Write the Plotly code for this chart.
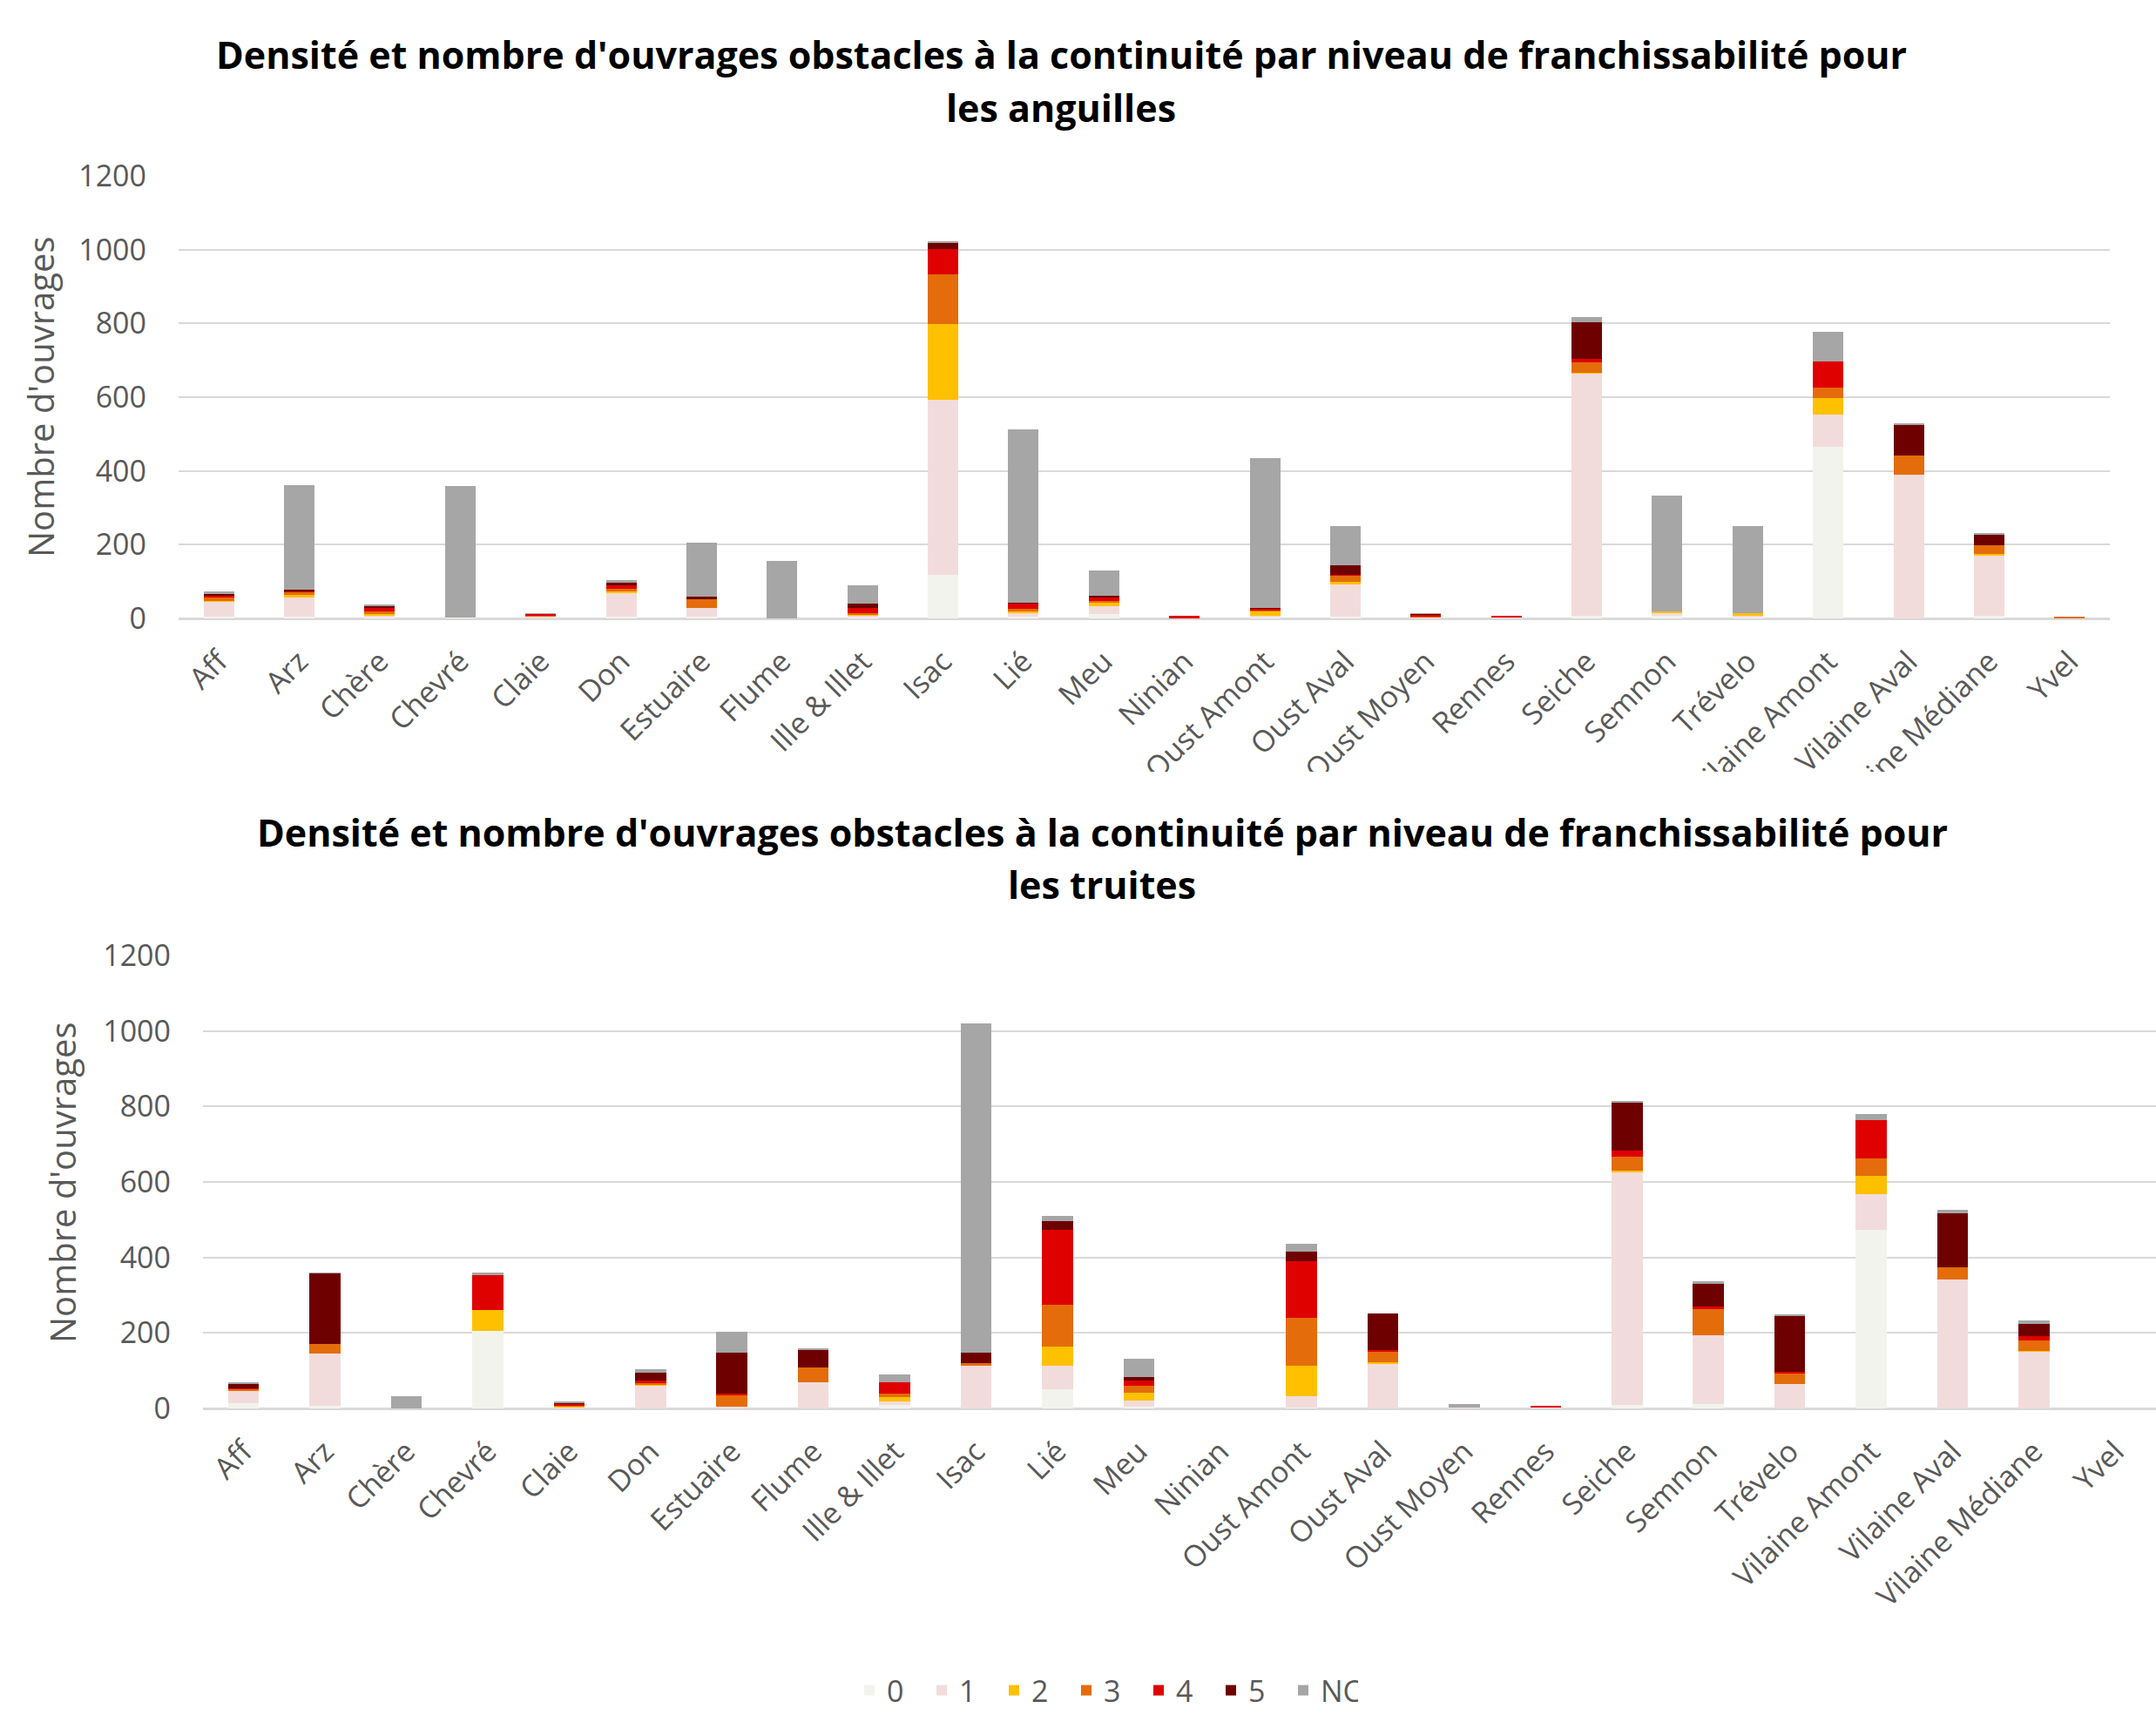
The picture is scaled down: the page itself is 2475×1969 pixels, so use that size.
import plotly.graph_objects as go

# Sub-basins
categories = ["Aff", "Arz", "Chère", "Chevré", "Claie", "Don", "Estuaire", "Flume",
              "Ille & Illet", "Isac", "Lié", "Meu", "Ninian", "Oust Amont", "Oust Aval",
              "Oust Moyen", "Rennes", "Seiche", "Semnon", "Trévelo", "Vilaine Amont",
              "Vilaine Aval", "Vilaine Médiane", "Yvel"]

# Passability classes (stack order, bottom to top)
classes = ["0", "1", "2", "3", "4", "5", "NC"]
class_colors = ["#F3F3EE", "#F2DCDB", "#FFC000", "#E46C0A", "#DF0000", "#6E0000", "#A6A6A6"]

# Eels: number of obstacles per class and sub-basin
anguilles_0 = [5, 5, 3, 2, 0, 5, 5, 0, 3, 117, 4, 12, 0, 4, 5, 0, 0, 8, 8, 4, 465, 0, 8, 0]
anguilles_1 = [40, 52, 4, 0, 5, 63, 23, 0, 6, 476, 12, 20, 1, 4, 88, 3, 2, 656, 6, 4, 88, 389, 161, 0]
anguilles_2 = [3, 6, 6, 0, 0, 6, 0, 0, 2, 205, 4, 10, 0, 10, 7, 0, 0, 2, 6, 6, 45, 0, 5, 0]
anguilles_3 = [10, 8, 5, 0, 1, 7, 24, 0, 3, 136, 5, 5, 0, 5, 18, 3, 0, 28, 0, 0, 27, 53, 25, 5]
anguilles_4 = [3, 2, 10, 0, 6, 8, 1, 0, 14, 67, 16, 10, 5, 3, 1, 4, 5, 10, 0, 0, 72, 0, 0, 0]
anguilles_5 = [5, 5, 7, 0, 0, 10, 6, 0, 11, 19, 2, 4, 0, 3, 24, 3, 0, 99, 0, 0, 0, 84, 27, 0]
anguilles_nc = [7, 284, 2, 358, 1, 4, 146, 156, 51, 2, 470, 70, 0, 406, 108, 1, 0, 15, 312, 236, 80, 4, 5, 0]

# Trout: number of obstacles per class and sub-basin
truites_0 = [13, 8, 0, 206, 0, 0, 0, 0, 10, 0, 51, 4, 0, 2, 0, 0, 0, 9, 12, 0, 473, 0, 0, 0]
truites_1 = [33, 138, 0, 0, 3, 60, 4, 70, 8, 113, 61, 17, 0, 30, 117, 2, 2, 616, 181, 64, 94, 341, 151, 0]
truites_2 = [0, 0, 0, 54, 3, 4, 0, 0, 13, 0, 53, 20, 0, 81, 6, 0, 0, 6, 0, 0, 49, 0, 2, 0]
truites_3 = [5, 24, 0, 0, 3, 4, 32, 38, 9, 6, 109, 18, 0, 128, 27, 0, 0, 37, 71, 30, 47, 33, 28, 0]
truites_4 = [1, 0, 0, 94, 4, 6, 4, 0, 30, 0, 199, 15, 0, 148, 5, 0, 5, 15, 6, 4, 101, 0, 10, 0]
truites_5 = [14, 189, 0, 0, 3, 20, 107, 47, 0, 28, 23, 10, 0, 27, 96, 0, 0, 128, 60, 147, 0, 142, 34, 0]
truites_nc = [4, 1, 32, 6, 1, 10, 55, 2, 20, 872, 15, 47, 0, 21, 0, 10, 0, 4, 6, 4, 15, 10, 9, 0]

anguilles = [anguilles_0, anguilles_1, anguilles_2, anguilles_3, anguilles_4, anguilles_5, anguilles_nc]
truites = [truites_0, truites_1, truites_2, truites_3, truites_4, truites_5, truites_nc]

title_line1 = "Densité et nombre d'ouvrages obstacles à la continuité par niveau de franchissabilité pour"
title_anguilles = "les anguilles"
title_truites = "les truites"
y_title = "Nombre d'ouvrages"

W, H = 2475, 1969
FONT = "Open Sans"
GREY_TXT = "#595959"
GRID = "#D9D9D9"


def px_y(y):
    """Convert a pixel row (from top) into paper coordinates."""
    return (H - y) / H


def px_x(x):
    return x / W


fig = go.Figure()

for i, cls in enumerate(classes):
    fig.add_trace(go.Bar(
        x=categories, y=anguilles[i], name=cls, marker_color=class_colors[i],
        marker_line_width=0, legendgroup=cls, showlegend=False,
        xaxis="x", yaxis="y",
    ))
for i, cls in enumerate(classes):
    fig.add_trace(go.Bar(
        x=categories, y=truites[i], name=cls, marker_color=class_colors[i],
        marker_line_width=0, legendgroup=cls, showlegend=True,
        xaxis="x2", yaxis="y2",
    ))

tick_font = dict(family=FONT, size=34, color=GREY_TXT)

xaxis_common = dict(
    type="category", tickangle=-45, tickfont=tick_font, showgrid=False,
    showline=True, linecolor=GRID, linewidth=2, ticks="", ticklabelstandoff=14,
    fixedrange=True, automargin=False,
)
yaxis_common = dict(
    range=[0, 1200], dtick=200, tickfont=tick_font, showgrid=True,
    gridcolor=GRID, gridwidth=2, zeroline=True, zerolinecolor=GRID,
    zerolinewidth=2, ticks="", showline=False, ticklabelstandoff=36,
    fixedrange=True, automargin=False,
)

fig.update_layout(
    width=W, height=H,
    margin=dict(l=0, r=0, t=0, b=0, autoexpand=False),
    paper_bgcolor="white", plot_bgcolor="white",
    barmode="stack", bargap=0.62,
    font=dict(family=FONT, color=GREY_TXT),
    xaxis=dict(domain=[px_x(205), px_x(2422)], anchor="y", **xaxis_common),
    yaxis=dict(domain=[px_y(710), px_y(202)], anchor="x", **yaxis_common),
    xaxis2=dict(domain=[px_x(233), 1.0], anchor="y2", **xaxis_common),
    yaxis2=dict(domain=[px_y(1617), px_y(1097)], anchor="x2", **yaxis_common),
    legend=dict(
        orientation="h", x=px_x(978), xanchor="left", y=px_y(1941), yanchor="middle",
        font=dict(family=FONT, size=34, color=GREY_TXT),
        entrywidthmode="pixels", entrywidth=38, traceorder="normal",
        bgcolor="rgba(0,0,0,0)",
    ),
    showlegend=True,
)

# The upper chart's category labels are cut off where the lower chart begins
fig.add_shape(
    type="rect", xref="paper", yref="paper", x0=0, x1=1,
    y0=px_y(975), y1=px_y(886), fillcolor="white", line_width=0, layer="above",
)

title_font = dict(family=FONT, size=43, color="black", weight="bold")
for text, cx, cy in [(title_line1, 1218, 63), (title_anguilles, 1218, 123),
                     (title_line1, 1265, 955), (title_truites, 1265, 1015)]:
    fig.add_annotation(
        text=text, x=px_x(cx), y=px_y(cy), xref="paper", yref="paper",
        xanchor="center", yanchor="middle", showarrow=False, font=title_font,
    )

axis_title_font = dict(family=FONT, size=40, color=GREY_TXT)
for cx, cy in [(47, 456), (71, 1358)]:
    fig.add_annotation(
        text=y_title, textangle=-90, x=px_x(cx), y=px_y(cy),
        xref="paper", yref="paper", xanchor="center", yanchor="middle",
        showarrow=False, font=axis_title_font,
    )

fig.write_html("out.html")
